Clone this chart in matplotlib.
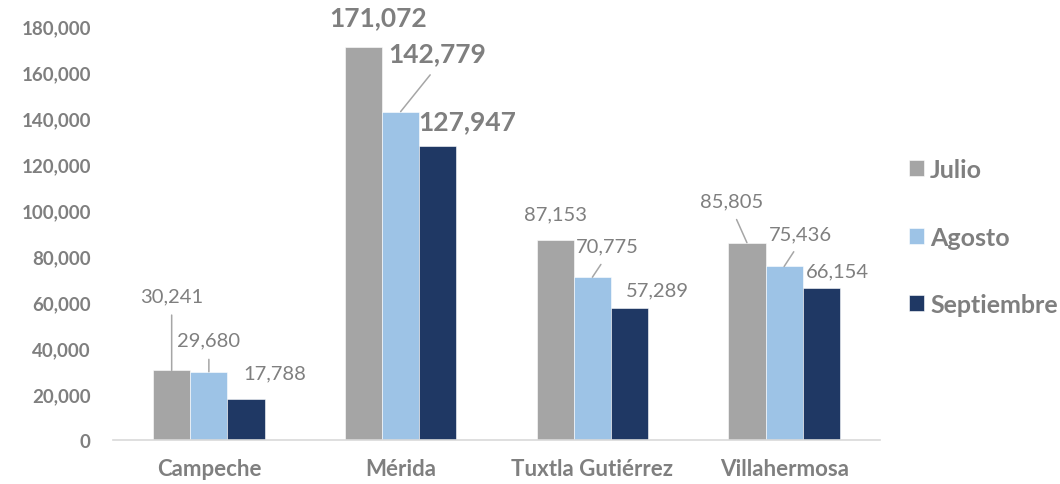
import numpy as np
import matplotlib
matplotlib.use("Agg")
import matplotlib.pyplot as plt
from matplotlib.ticker import FuncFormatter

plt.rcParams['font.family'] = ['Lato', 'DejaVu Sans']

ciudades = ['Campeche', 'Mérida', 'Tuxtla Gutiérrez', 'Villahermosa']
meses = ['Julio', 'Agosto', 'Septiembre']
julio = [30241, 171072, 87153, 85805]
agosto = [29680, 142779, 70775, 75436]
septiembre = [17788, 127947, 57289, 66154]
colores = ['#A5A5A5', '#9DC3E6', '#1F3864']

# label offsets (pixels from bar top) and whether a leader line is drawn
offsets = [
    [(0, 75, True), (0, 32, True), (29, 26, False)],
    [(15, 29, False), (37, 58, True), (29, 25, False)],
    [(0, 26, False), (15, 31, True), (28, 18, False)],
    [(-15, 42, True), (16, 33, True), (16, 17, False)],
]

gris = '#7F7F7F'
fig = plt.figure(figsize=(10.6, 4.85), dpi=100)
ax = fig.add_axes([113/1060, 1-441/485, 767/1060, (441-27)/485])

x = np.arange(len(ciudades))
w = 0.194
series = [julio, agosto, septiembre]
for j, vals in enumerate(series):
    ax.bar(x + (j-1)*w, vals, w, color=colores[j], label=meses[j],
           edgecolor='white', linewidth=0.4)

for i in range(len(ciudades)):
    for j, vals in enumerate(series):
        dx, dy, leader = offsets[i][j]
        grande = (i == 1)
        props = None
        if leader:
            props = dict(arrowstyle='-', color='#A6A6A6', lw=1.1,
                         relpos=(0.5, 0), shrinkA=6, shrinkB=0)
        ax.annotate(f'{vals[i]:,}', xy=(x[i] + (j-1)*w, vals[i]),
                    xytext=(dx, dy), textcoords='offset pixels',
                    ha='center', va='center', color=gris,
                    fontsize=19 if grande else 14.5,
                    fontweight='bold' if grande else 'normal',
                    arrowprops=props, annotation_clip=False)

ax.set_xlim(-0.5, 3.5)
ax.set_ylim(0, 180000)
ax.set_yticks(np.arange(0, 180001, 20000))
ax.yaxis.set_major_formatter(FuncFormatter(lambda v, p: f'{int(v):,}'))
ax.set_xticks(x)
ax.set_xticklabels(ciudades)
for s in ['top', 'right', 'left']:
    ax.spines[s].set_visible(False)
ax.spines['bottom'].set_color('#D9D9D9')
ax.spines['bottom'].set_linewidth(1.2)
ax.tick_params(axis='y', length=0, pad=16, labelsize=13.5, labelcolor=gris)
ax.tick_params(axis='x', length=0, pad=13, labelsize=16, labelcolor=gris)
for t in ax.get_xticklabels() + ax.get_yticklabels():
    t.set_fontweight('bold')

leg = fig.legend(loc='center left', bbox_to_anchor=(909/1060, 1-238/485),
                 frameon=False, fontsize=18, handlelength=0.6,
                 handleheight=0.6, handletextpad=0.25, labelspacing=1.78,
                 borderpad=0, borderaxespad=0)
for t in leg.get_texts():
    t.set_color(gris)
    t.set_fontweight('bold')

fig.savefig('out.png', dpi=100)
